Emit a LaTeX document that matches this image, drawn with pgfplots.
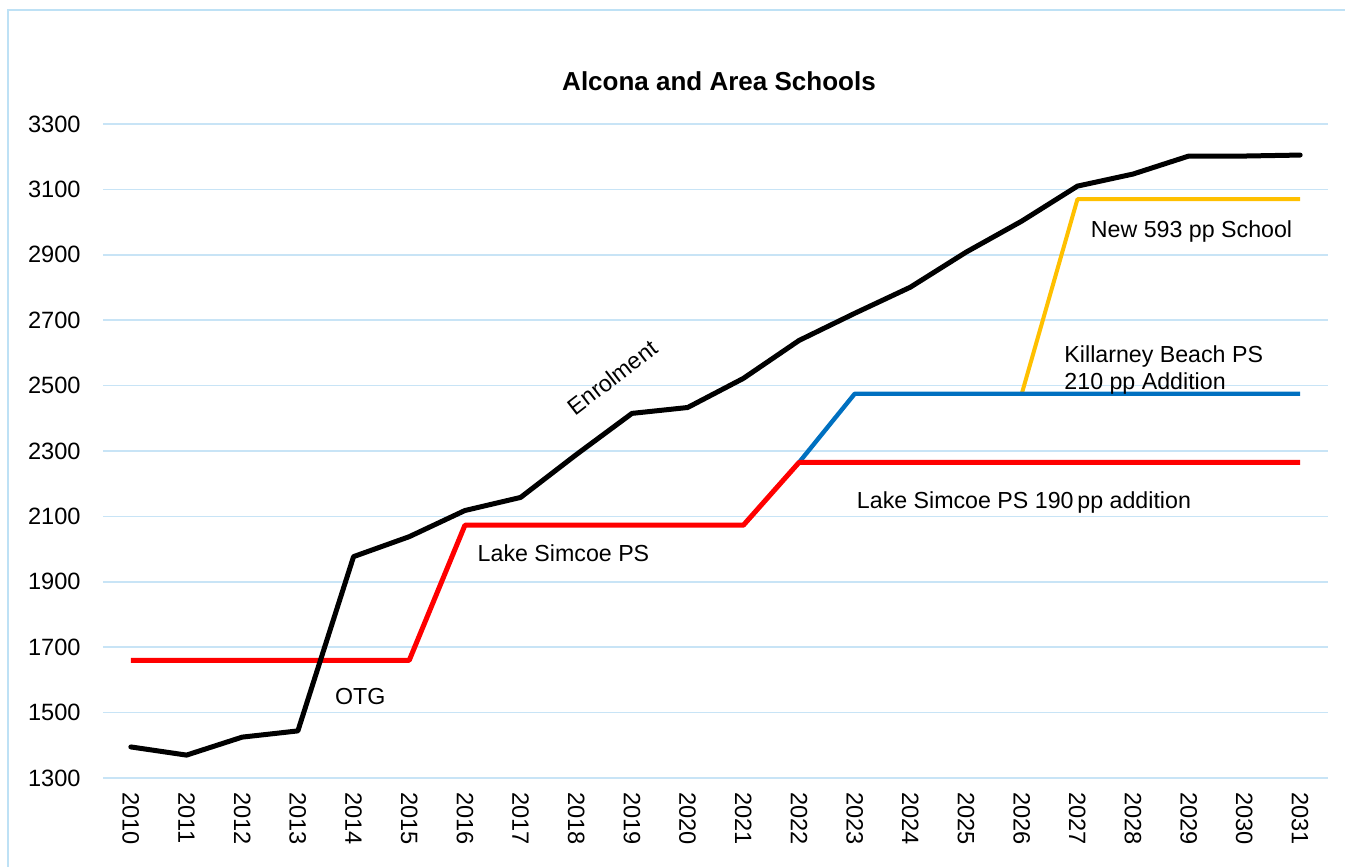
\documentclass[border=0pt]{standalone}
\usepackage{fontspec}
\setmainfont{Liberation Sans}
\usepackage{pgfplots}
\pgfplotsset{compat=1.18}
\definecolor{gridblue}{RGB}{200,228,246}
\definecolor{frameblue}{RGB}{190,225,245}
\definecolor{xred}{RGB}{255,0,0}
\definecolor{xblue}{RGB}{0,112,192}
\definecolor{xyellow}{RGB}{255,192,0}
\begin{document}
\begin{tikzpicture}[x=1pt,y=1pt]
\useasboundingbox (0,0) rectangle (672.5,433.5);
\draw[frameblue, line width=1.2pt] (4,-20) rectangle (700,428.5);
\begin{axis}[at={(51.5pt,44.5pt)}, anchor=south west, scale only axis,
  width=612.5pt, height=327pt,
  xmin=2009.5, xmax=2031.5, ymin=1300, ymax=3300,
  xtick={2010,...,2031}, ytick={1300,1500,...,3300},
  ymajorgrids, grid style={gridblue, line width=0.8pt},
  axis line style={draw=none}, major tick length=0pt,
  /pgf/number format/assume math mode=true,
  /pgf/number format/1000 sep={},
  tick label style={font=\fontsize{11.8}{14}\selectfont},
  xticklabel style={rotate=-90, anchor=west, inner sep=0pt},
  yticklabel style={anchor=east, inner sep=0pt},
  xticklabel shift=7pt, yticklabel shift=11pt,
  clip=false]
\addplot[xyellow, line width=2pt, line join=round] coordinates {
 (2026,2475) (2027,3070) (2028,3070) (2029,3070) (2030,3070) (2031,3070)};
\addplot[xblue, line width=2.2pt, line join=round] coordinates {
 (2022,2265) (2023,2475) (2024,2475) (2025,2475) (2026,2475) (2027,2475)
 (2028,2475) (2029,2475) (2030,2475) (2031,2475)};
\addplot[xred, line width=2.5pt, line join=round] coordinates {
 (2010,1660) (2011,1660) (2012,1660) (2013,1660) (2014,1660) (2015,1660)
 (2016,2073) (2017,2073) (2018,2073) (2019,2073) (2020,2073) (2021,2073)
 (2022,2265) (2023,2265) (2024,2265) (2025,2265) (2026,2265) (2027,2265)
 (2028,2265) (2029,2265) (2030,2265) (2031,2265)};
\addplot[black, line width=2.5pt, line join=round, line cap=round] coordinates {
 (2010,1395) (2011,1370) (2012,1425) (2013,1444) (2014,1977) (2015,2038)
 (2016,2118) (2017,2158) (2018,2289) (2019,2415) (2020,2433) (2021,2522)
 (2022,2638) (2023,2721) (2024,2801) (2025,2908) (2026,3003) (2027,3110)
 (2028,3147) (2029,3202) (2030,3202) (2031,3205)};
\begin{scope}[font=\fontsize{11.6}{13.5}\selectfont]
\node[rotate=37.6] at (axis cs:2018.65,2525) {Enrolment};
\node at (axis cs:2014.12,1548) {OTG};
\node at (axis cs:2017.77,1988) {Lake Simcoe PS};
\node at (axis cs:2026.04,2141) {Lake Simcoe PS 190\,pp addition};
\node[anchor=west, align=left, inner sep=0pt] at (axis cs:2026.76,2548) {Killarney Beach PS\\210 pp Addition};
\node at (axis cs:2029.05,2970) {New 593 pp School};
\end{scope}
\end{axis}
\node[font=\bfseries\fontsize{13}{15}\selectfont] at (359.5,393) {Alcona and Area Schools};
\end{tikzpicture}
\end{document}
